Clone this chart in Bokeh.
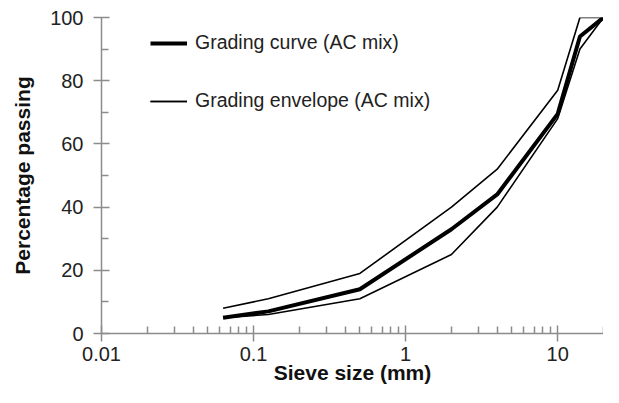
from bokeh.plotting import figure
from bokeh.models import (Range1d, FixedTicker, CustomJSTickFormatter, Legend, LegendItem)
from bokeh.embed import file_html
from bokeh.resources import INLINE

# Data
sieve_mm = [0.063, 0.125, 0.5, 2, 4, 10, 14, 20]
grading_curve = [5, 7, 14, 33, 44, 69.5, 94, 100]
env_upper = [8, 11, 19, 40, 52, 77, 100, 100]
env_lower = [5, 6, 11, 25, 40, 68, 90, 100]

x_major = [0.01, 0.1, 1, 10]
x_minor = [0.02, 0.03, 0.04, 0.05, 0.06, 0.07, 0.08, 0.09,
           0.2, 0.3, 0.4, 0.5, 0.6, 0.7, 0.8, 0.9,
           2, 3, 4, 5, 6, 7, 8, 9, 20]
y_major = [0, 20, 40, 60, 80, 100]
y_minor = [10, 30, 50, 70, 90]

x_title = "Sieve size (mm)"
y_title = "Percentage passing"

FONT = "Liberation Sans"
AXIS_GRAY = "#8c8c8c"

p = figure(width=603, height=387, x_axis_type="log",
           x_range=Range1d(0.01, 20), y_range=Range1d(0, 100),
           output_backend="svg", toolbar_location=None,
           min_border_left=101, min_border_right=0, min_border_top=17,
           min_border_bottom=54)
p.outline_line_color = None
p.grid.visible = False
p.background_fill_color = "white"
p.border_fill_color = "white"

r_up = p.line(sieve_mm, env_upper, line_color="black", line_width=1.6)
r_lo = p.line(sieve_mm, env_lower, line_color="black", line_width=1.6)
r_c = p.line(sieve_mm, grading_curve, line_color="black", line_width=4)

xa = p.xaxis[0]
xa.ticker = FixedTicker(ticks=x_major, minor_ticks=x_minor)
xa.formatter = CustomJSTickFormatter(code="return tick.toString();")
ya = p.yaxis[0]
ya.ticker = FixedTicker(ticks=y_major, minor_ticks=y_minor)

for ax in (xa, ya):
    ax.axis_line_color = AXIS_GRAY
    ax.axis_line_width = 1.5
    ax.major_tick_line_color = AXIS_GRAY
    ax.major_tick_line_width = 1.5
    ax.minor_tick_line_color = AXIS_GRAY
    ax.minor_tick_line_width = 1.5
    ax.major_tick_in = 8
    ax.major_tick_out = 8
    ax.minor_tick_in = 7
    ax.minor_tick_out = 0
    ax.major_label_text_font = FONT
    ax.major_label_text_font_size = "20px"
    ax.major_label_text_color = "#222222"
    ax.axis_label_text_font = FONT
    ax.axis_label_text_font_size = "21px"
    ax.axis_label_text_font_style = "bold"
    ax.axis_label_text_color = "#111111"

xa.axis_label = x_title
ya.axis_label = y_title
xa.major_label_standoff = 5
ya.major_label_standoff = 10
xa.axis_label_standoff = -3
ya.axis_label_standoff = 13

legend = Legend(items=[LegendItem(label="Grading curve (AC mix)", renderers=[r_c]),
                       LegendItem(label="Grading envelope (AC mix)", renderers=[r_up, r_lo])],
                location=(49, 221), glyph_width=37, glyph_height=20, label_height=20,
                label_standoff=8, spacing=35, padding=0, margin=0,
                border_line_alpha=0, background_fill_alpha=0,
                label_text_font=FONT, label_text_font_size="19.5px",
                label_text_color="#222222")
p.add_layout(legend, "center")

open("out.html", "w").write(file_html(p, INLINE))
